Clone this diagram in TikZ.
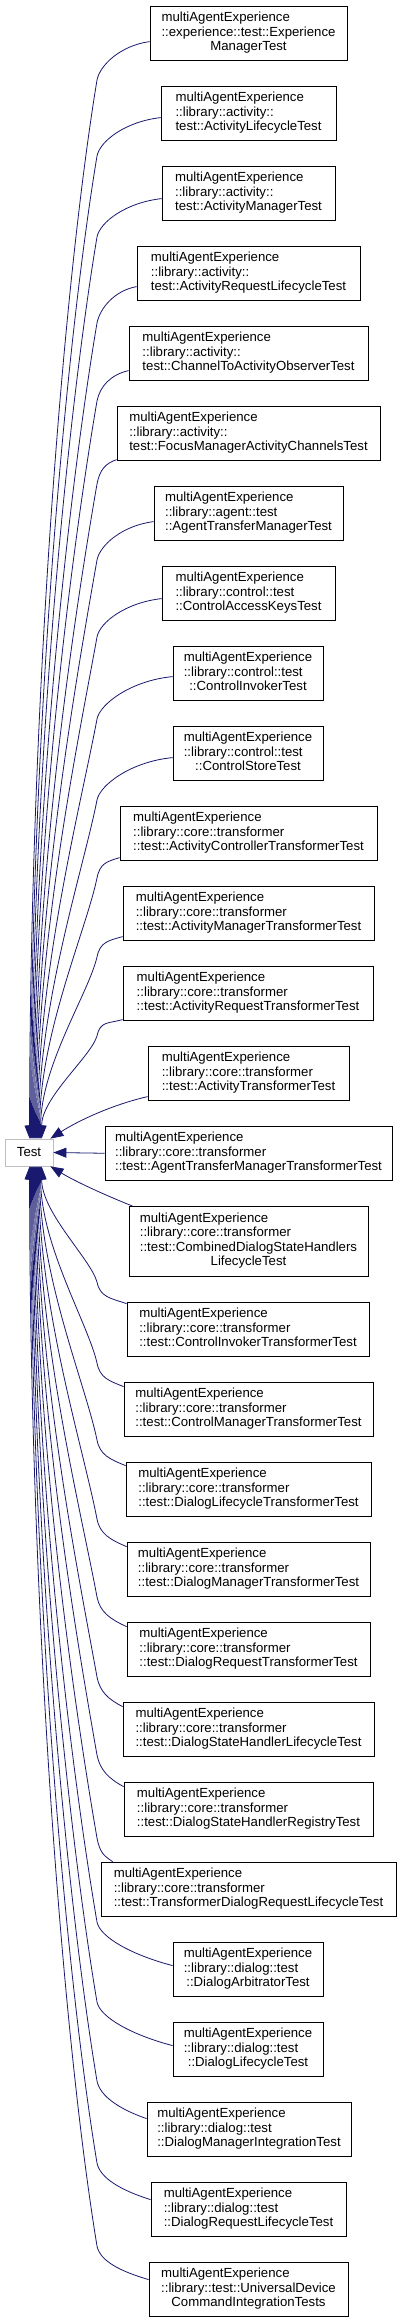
\documentclass[tikz,border=0pt]{standalone}
\usepackage{fontspec}
\setmainfont{Liberation Sans}
\usetikzlibrary{arrows.meta,calc}
\definecolor{edgeblue}{HTML}{191970}
\definecolor{basegray}{HTML}{BFBFBF}
\newcommand\lblthree[3]{\begin{tabular}{@{}l@{}}#1\\#2\\\multicolumn{1}{@{}c@{}}{#3}\end{tabular}}
\newcommand\lblfour[4]{\begin{tabular}{@{}l@{}}#1\\#2\\#3\\\multicolumn{1}{@{}c@{}}{#4}\end{tabular}}
\begin{document}
\begin{tikzpicture}[x=1bp,y=-1bp,
  cls/.style={draw=black, line width=0.8bp, fill=white, inner sep=0pt,
    minimum width=#1bp, minimum height=54.5bp,
    font=\fontsize{13.2bp}{14.3bp}\selectfont},
  basenode/.style={draw=basegray, line width=0.8bp, fill=white, inner sep=0pt,
    minimum width=48bp, minimum height=27bp,
    font=\fontsize{13.2bp}{14.3bp}\selectfont},
  edge/.style={draw=edgeblue, line width=0.8bp, -{Triangle[length=13bp,width=10bp]}, fill=none}
]
\fill[white] (0,0) rectangle (401,2323);
\useasboundingbox (0,0) rectangle (401,2323);

\node[basenode] (T) at (29,1152.5) {Test};

\node[cls=197] (b1) at (248.5,33.25) {\lblthree{multiAgentExperience}{::experience::test::Experience}{ManagerTest}};
\node[cls=175] (b2) at (248.5,113.25) {\lblthree{multiAgentExperience}{::library::activity::}{test::ActivityLifecycleTest}};
\node[cls=173] (b3) at (248.5,193.25) {\lblthree{multiAgentExperience}{::library::activity::}{test::ActivityManagerTest}};
\node[cls=223] (b4) at (248.5,273.25) {\lblthree{multiAgentExperience}{::library::activity::}{test::ActivityRequestLifecycleTest}};
\node[cls=239] (b5) at (248.5,353.25) {\lblthree{multiAgentExperience}{::library::activity::}{test::ChannelToActivityObserverTest}};
\node[cls=263] (b6) at (248.5,433.25) {\lblthree{multiAgentExperience}{::library::activity::}{test::FocusManagerActivityChannelsTest}};
\node[cls=189] (b7) at (248.5,513.25) {\lblthree{multiAgentExperience}{::library::agent::test}{::AgentTransferManagerTest}};
\node[cls=173] (b8) at (248.5,593.25) {\lblthree{multiAgentExperience}{::library::control::test}{::ControlAccessKeysTest}};
\node[cls=150] (b9) at (248,673.25) {\lblthree{multiAgentExperience}{::library::control::test}{::ControlInvokerTest}};
\node[cls=150] (b10) at (248,753.25) {\lblthree{multiAgentExperience}{::library::control::test}{::ControlStoreTest}};
\node[cls=257] (b11) at (248.5,833.25) {\lblthree{multiAgentExperience}{::library::core::transformer}{::test::ActivityControllerTransformerTest}};
\node[cls=251] (b12) at (248.5,913.25) {\lblthree{multiAgentExperience}{::library::core::transformer}{::test::ActivityManagerTransformerTest}};
\node[cls=250] (b13) at (248,993.25) {\lblthree{multiAgentExperience}{::library::core::transformer}{::test::ActivityRequestTransformerTest}};
\node[cls=201] (b14) at (248.5,1073.25) {\lblthree{multiAgentExperience}{::library::core::transformer}{::test::ActivityTransformerTest}};
\node[cls=287] (b15) at (248.5,1153.25) {\lblthree{multiAgentExperience}{::library::core::transformer}{::test::AgentTransferManagerTransformerTest}};
\node[cls=239, minimum height=69.5bp] (b16) at (248.5,1241.25) {\lblfour{multiAgentExperience}{::library::core::transformer}{::test::CombinedDialogStateHandlers}{LifecycleTest}};
\node[cls=242] (b17) at (248,1329.25) {\lblthree{multiAgentExperience}{::library::core::transformer}{::test::ControlInvokerTransformerTest}};
\node[cls=249] (b18) at (248.5,1409.25) {\lblthree{multiAgentExperience}{::library::core::transformer}{::test::ControlManagerTransformerTest}};
\node[cls=245] (b19) at (248.5,1489.25) {\lblthree{multiAgentExperience}{::library::core::transformer}{::test::DialogLifecycleTransformerTest}};
\node[cls=243] (b20) at (248.5,1569.25) {\lblthree{multiAgentExperience}{::library::core::transformer}{::test::DialogManagerTransformerTest}};
\node[cls=243] (b21) at (248.5,1649.25) {\lblthree{multiAgentExperience}{::library::core::transformer}{::test::DialogRequestTransformerTest}};
\node[cls=251] (b22) at (248.5,1729.25) {\lblthree{multiAgentExperience}{::library::core::transformer}{::test::DialogStateHandlerLifecycleTest}};
\node[cls=249] (b23) at (248.5,1809.25) {\lblthree{multiAgentExperience}{::library::core::transformer}{::test::DialogStateHandlerRegistryTest}};
\node[cls=295] (b24) at (248.5,1889.25) {\lblthree{multiAgentExperience}{::library::core::transformer}{::test::TransformerDialogRequestLifecycleTest}};
\node[cls=150] (b25) at (248,1969.25) {\lblthree{multiAgentExperience}{::library::dialog::test}{::DialogArbitratorTest}};
\node[cls=150] (b26) at (248,2049.25) {\lblthree{multiAgentExperience}{::library::dialog::test}{::DialogLifecycleTest}};
\node[cls=204] (b27) at (249,2129.25) {\lblthree{multiAgentExperience}{::library::dialog::test}{::DialogManagerIntegrationTest}};
\node[cls=195] (b28) at (248.5,2209.25) {\lblthree{multiAgentExperience}{::library::dialog::test}{::DialogRequestLifecycleTest}};
\node[cls=199] (b29) at (248.5,2289.25) {\lblthree{multiAgentExperience}{::library::test::UniversalDevice}{CommandIntegrationTests}};

% edges from upper boxes into the top of Test
\foreach \n/\xS/\off/\d/\xe in {1/150/36/38/30, 2/161/32/38/31, 3/162/33/38/32, 4/137/41/36/33,
  5/129/45/30/34, 6/117/54/24/35, 7/154/36/38/36, 8/162/33/38/37, 9/173/31/42/38,
  10/173/32/42/39, 11/120/52/20/40, 12/123/51/20/41, 13/123/54/16/42}{
  \pgfmathsetmacro\ytop{6+80*(\n-1)}
  \pgfmathsetmacro\yB{\ytop+\off+\d}
  \pgfmathsetmacro\len{1139-\yB}
  \pgfmathsetmacro\ca{-(\xS-97)*0.55}
  \pgfmathsetmacro\cbx{-0.03*\len-3}
  \pgfmathsetmacro\cby{0.2*\len}
  \pgfmathsetmacro\ccy{-0.4*\len}
  \draw[edge] ($(b\n.north west)+(0,\off)$) .. controls +(\ca,4) and +(3,-15) .. (97,\yB)
     .. controls +(\cbx,\cby) and +(0,\ccy) .. ($(T.north west)+(\xe-5,0)$);
}

% edges from lower boxes into the bottom of Test
\foreach \n/\sx/\xS/\off/\d/\xe in {17/0/127/2/22/42, 18/0/124/5/24/41, 19/0/126/4/26/40,
  20/0/127/5/28/39, 21/0/127/5/30/38, 22/0/123/5/30/37, 23/0/124/5/32/36, 24/12/113/0/24/35,
  25/0/173/24/44/34, 26/0/173/24/44/33, 27/0/147/17/38/32, 28/0/151/18/37/31, 29/0/149/18/34/30}{
  \pgfmathsetmacro\ytop{1302+80*(\n-17)}
  \pgfmathsetmacro\yB{\ytop+\off-\d}
  \pgfmathsetmacro\len{\yB-1166}
  \pgfmathsetmacro\ca{-(\xS-97)*0.55}
  \pgfmathsetmacro\cay{-0.25*\d}
  \pgfmathsetmacro\cbx{-0.03*\len-3}
  \pgfmathsetmacro\cby{-0.2*\len}
  \pgfmathsetmacro\ccy{0.4*\len}
  \draw[edge] ($(b\n.north west)+(\sx,\off)$) .. controls +(\ca,\cay) and +(3,15) .. (97,\yB)
     .. controls +(\cbx,\cby) and +(0,\ccy) .. ($(T.south west)+(\xe-5,0)$);
}

% the three boxes next to Test
\draw[edge] ($(b14.north west)+(0,51)$) .. controls +(-35,8) and +(28,-18) .. ($(T.north east)+(-3,0)$);
\draw[edge] (b15.west) -- (T.east);
\draw[edge] ($(b16.north west)+(4,0)$) .. controls +(-30,-12) and +(25,15) .. ($(T.south east)+(-3,0)$);
\end{tikzpicture}
\end{document}
